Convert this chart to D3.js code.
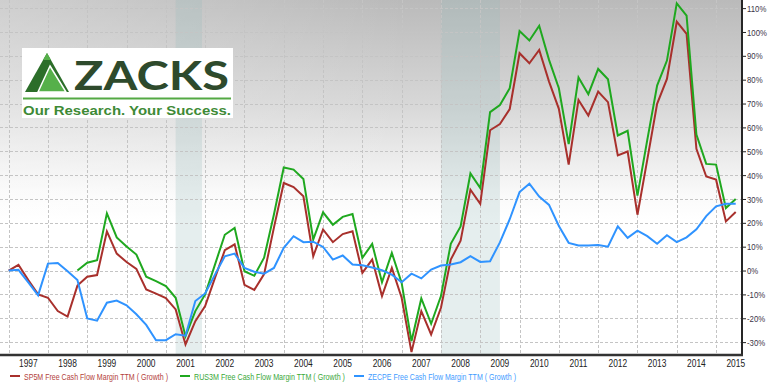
<!DOCTYPE html>
<html>
<head>
<meta charset="utf-8">
<script src="https://cdn.jsdelivr.net/npm/d3@7"></script>
<style>
  body { margin: 0; background: #fff; }
  svg { display: block; }
  text { font-family: Arial, "Liberation Sans", sans-serif; }
</style>
</head>
<body>
<svg id="chart" width="768" height="388"></svg>
<script>
// quarterly points, first one is Q1 1997
var startYear = 1997;

var sp5m = [0, 2.4, -4, -10, -11.4, -17, -19.3, -6.3, -2.6, -1.9,
  16.4, 7.1, 3.6, 0.7, -7.9, -9.7, -11.5, -16.3, -31, -21.2,
  -14.9, -3.1, 8.5, 11, -6, -8.1, -1.5, 18, 36.7, 35,
  31.1, 6, 17.2, 11.9, 15.3, 16.5, -1, 4.6, -10.7, 1.1,
  -11.4, -34.2, -17, -26.8, -15.6, 4.6, 12.5, 33.9, 28, 58.8,
  61.4, 67.7, 91.1, 86.9, 92.5, 79.2, 67.8, 44.4, 71.5, 65,
  75, 70.6, 48.3, 49.9, 23.4, 46.5, 69.9, 80.3, 104.3, 99.2,
  51, 39.4, 38.1, 20.6, 24.5];

var rus3m = [null, null, null, null, null, null, null, 0, 3.3, 4.3,
  24, 13.9, 10.1, 6.7, -2.6, -4.4, -6.5, -11.4, -27.5, -17,
  -10, 2.5, 15, 17.9, -0.3, -2.2, 5.4, 23.5, 43.2, 42.3,
  38.4, 13, 24.4, 19.2, 22.5, 23.7, 5.3, 11.2, -4.9, 7.4,
  -5.2, -29.6, -11.7, -22.3, -10.7, 11.2, 18.5, 40.7, 34.6, 66.4,
  69.4, 76.4, 100.4, 96.4, 102.6, 88.3, 76.4, 53, 80.9, 73.9,
  84.5, 80.2, 56.6, 58.6, 31.4, 54.8, 77.5, 88, 112, 106.8,
  57, 44.7, 44.4, 26.2, 30];

var zecpe = [0, 0.3, -5, -10.4, 2.9, 3.2, -0.3, -4, -20.1, -21,
  -13.5, -12.6, -14.6, -18.3, -22.8, -29.2, -29.2, -26.7, -27.3, -12.8,
  -9.6, -1.7, 6, 7.1, 1.1, -0.5, -1.3, 1.1, 9.5, 14.4,
  11.9, 12.1, 9.9, 4.6, 6.3, 2.5, 2.2, 1.3, 0.1, -1.7,
  -4.9, -1.3, -3.3, 0.4, 2.1, 2.5, 3.5, 6, 3.6, 3.9,
  11.8, 21.5, 32.9, 36.4, 31, 27.5, 18.7, 11.6, 10.5, 10.5,
  10.7, 10, 18.5, 13.7, 16.7, 14.4, 11.2, 14.8, 11.9, 13.9,
  17.3, 22.8, 26.9, 28, 28];

var seriesNames = ["SP5M Free Cash Flow Margin TTM ( Growth )",
  "RUS3M Free Cash Flow Margin TTM ( Growth )",
  "ZECPE Free Cash Flow Margin TTM ( Growth )"];
var seriesColors = ["#a8302c", "#1fa81f", "#2f93ff"];
var legendColors = ["#b3423c", "#3aa83a", "#3f9cff"];

var yearLabels = d3.range(1997, 2016);
var yTicks = d3.range(-30, 111, 10);

// recessions (decimal years)
var recessions = [[2001.25, 2001.92], [2008.0, 2009.5]];

var svg = d3.select("#chart");
var plotW = 742, plotH = 355;

var x = d3.scaleLinear().domain([1996.78, 2015.66]).range([0, plotW]);
var y = d3.scaleLinear().domain([-35.4, 113.4]).range([plotH, 0]);

// narrow the glyphs, the original font is condensed
function squeeze(sel, k) {
    sel.each(function() {
        var t = d3.select(this);
        var x0 = +t.attr("x") || 0;
        t.attr("x", 0)
            .attr("transform", "translate(" + x0 + ",0) scale(" + k + ",1)");
    });
}

var defs = svg.append("defs");
var grad = defs.append("linearGradient")
    .attr("id", "bg")
    .attr("x1", 0).attr("y1", 0).attr("x2", 0).attr("y2", 1);
grad.append("stop").attr("offset", "0%").attr("stop-color", "#bababa");
grad.append("stop").attr("offset", "30%").attr("stop-color", "#d8d8d8");
grad.append("stop").attr("offset", "55%").attr("stop-color", "#fafafa");
grad.append("stop").attr("offset", "62%").attr("stop-color", "#ffffff");

var grad2 = defs.append("linearGradient")
    .attr("id", "bgLeft")
    .attr("x1", 0).attr("y1", 0).attr("x2", 1).attr("y2", 0);
grad2.append("stop").attr("offset", "0%").attr("stop-color", "#fff").attr("stop-opacity", 0.3);
grad2.append("stop").attr("offset", "55%").attr("stop-color", "#fff").attr("stop-opacity", 0);

svg.append("rect")
    .attr("width", plotW).attr("height", plotH)
    .attr("fill", "url(#bg)");
svg.append("rect")
    .attr("width", plotW).attr("height", plotH)
    .attr("fill", "url(#bgLeft)");

//Recession bands
svg.selectAll(".rec")
    .data(recessions)
    .enter().append("rect")
    .attr("x", function(d) { return x(d[0]); })
    .attr("width", function(d) { return x(d[1]) - x(d[0]); })
    .attr("y", 0).attr("height", plotH)
    .attr("fill", "rgb(150,186,186)")
    .attr("opacity", 0.25);

//Grid
svg.append("g")
    .selectAll("line")
    .data(yTicks)
    .enter().append("line")
    .attr("x1", 0).attr("x2", plotW)
    .attr("y1", function(d) { return Math.round(y(d)) + 0.5; })
    .attr("y2", function(d) { return Math.round(y(d)) + 0.5; })
    .attr("stroke", "#c4c4c4")
    .attr("stroke-dasharray", "3,2");

svg.append("g")
    .selectAll("line")
    .data(yearLabels)
    .enter().append("line")
    .attr("x1", function(d) { return Math.round(x(d)) + 0.5; })
    .attr("x2", function(d) { return Math.round(x(d)) + 0.5; })
    .attr("y1", 0).attr("y2", plotH)
    .attr("stroke", "#c4c4c4")
    .attr("stroke-dasharray", "3,2");

//Logo
var logo = svg.append("g").attr("class", "logo");
logo.append("rect")
    .attr("x", 22).attr("y", 48).attr("width", 211).attr("height", 70)
    .attr("fill", "#fff");
logo.append("path")
    .attr("d", "M47,53 L69,92 L25,92 Z")
    .attr("fill", "#2c6e2a");
logo.append("path")
    .attr("d", "M50,66 L66,92 L38,92 Z")
    .attr("fill", "#56b04a")
    .attr("stroke", "#fff")
    .attr("stroke-width", 1.5);
logo.append("path")
    .attr("d", "M47,53 L51,60 L43,60 Z")
    .attr("fill", "#56b04a");
logo.append("text")
    .attr("x", 74).attr("y", 90)
    .attr("textLength", 155)
    .attr("lengthAdjust", "spacingAndGlyphs")
    .style("font-family", "Lato, 'Open Sans', Arial, sans-serif")
    .style("font-size", "40px")
    .style("font-weight", "bold")
    .attr("fill", "#2e4a2c")
    .text("ZACKS");
logo.append("line")
    .attr("x1", 23).attr("x2", 231)
    .attr("y1", 98.5).attr("y2", 98.5)
    .attr("stroke", "#54a944")
    .attr("stroke-width", 1.8);
logo.append("text")
    .attr("x", 23).attr("y", 115)
    .attr("textLength", 208)
    .attr("lengthAdjust", "spacingAndGlyphs")
    .style("font-size", "13px")
    .style("font-weight", "bold")
    .attr("fill", "#3e8a36")
    .text("Our Research. Your Success.");

//Lines
var line = d3.line()
    .defined(function(d) { return d != null; })
    .x(function(d, i) { return x(startYear + i * 0.25); })
    .y(function(d) { return y(d); });

[sp5m, rus3m, zecpe].forEach(function(s, k) {
    svg.append("path")
        .datum(s)
        .attr("fill", "none")
        .attr("stroke", seriesColors[k])
        .attr("stroke-width", 2)
        .attr("d", line);
});

//Axes
var yAxis = d3.axisRight(y)
    .tickValues(yTicks)
    .tickSize(4)
    .tickPadding(1)
    .tickFormat(function(d) { return d + "%"; });

var gy = svg.append("g")
    .attr("transform", "translate(" + plotW + ",0)")
    .call(yAxis);
gy.select(".domain").remove();
gy.selectAll("line").attr("stroke", "#222");
gy.selectAll("text")
    .attr("font-family", null)
    .attr("font-size", null)
    .style("font-size", "9.5px")
    .attr("fill", "#3a3346")
    .call(squeeze, 0.82);

svg.append("line")
    .attr("x1", plotW).attr("x2", plotW)
    .attr("y1", 0).attr("y2", plotH + 1)
    .attr("stroke", "#262626").attr("stroke-width", 2);

svg.append("line")
    .attr("x1", 0).attr("x2", plotW + 1)
    .attr("y1", plotH).attr("y2", plotH)
    .attr("stroke", "#333").attr("stroke-width", 2.5);

svg.append("g")
    .selectAll("text")
    .data(yearLabels)
    .enter().append("text")
    .attr("x", function(d) { return x(d + 0.5); })
    .attr("y", 367)
    .attr("text-anchor", "middle")
    .style("font-size", "10.5px")
    .attr("fill", "#222")
    .text(function(d) { return d; })
    .call(squeeze, 0.8);

//Legend
var legendX = [10, 180, 354];
var legendW = [144, 151, 148];
var legend = svg.append("g").selectAll("g")
    .data(seriesNames)
    .enter().append("g")
    .attr("transform", function(d, i) { return "translate(" + legendX[i] + ",376)"; });

legend.append("line")
    .attr("x1", 0).attr("x2", 10)
    .attr("stroke", function(d, i) { return seriesColors[i]; })
    .attr("stroke-width", 2);

legend.append("text")
    .attr("x", 14).attr("y", 3.5)
    .attr("textLength", function(d, i) { return legendW[i]; })
    .attr("lengthAdjust", "spacingAndGlyphs")
    .style("font-size", "9px")
    .attr("fill", function(d, i) { return legendColors[i]; })
    .text(function(d) { return d; });
</script>
</body>
</html>
